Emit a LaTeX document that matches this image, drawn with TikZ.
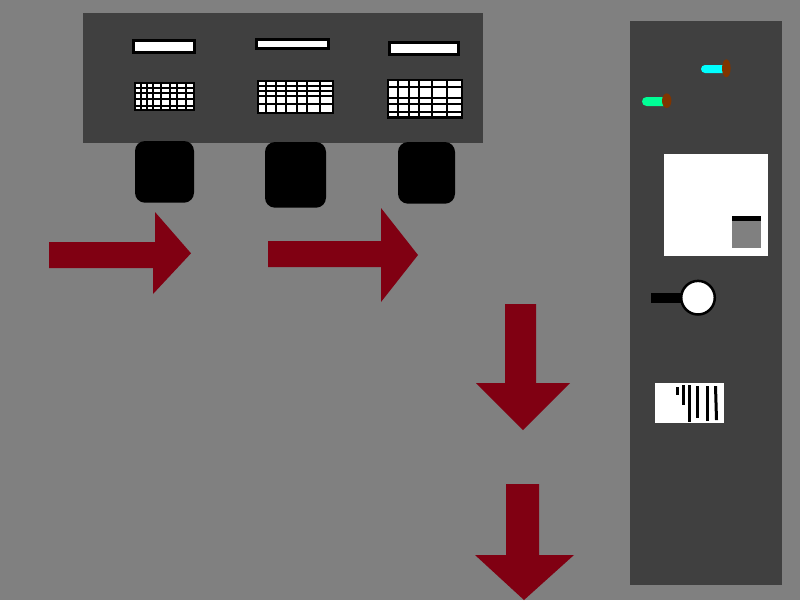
\documentclass[tikz,border=0pt]{standalone}
\usetikzlibrary{calc}
\definecolor{bggray}{RGB}{128,128,128}
\definecolor{panel}{RGB}{64,64,64}
\definecolor{darkred}{RGB}{128,0,18}
\definecolor{capcyan}{RGB}{0,255,255}
\definecolor{capgreen}{RGB}{0,255,150}
\definecolor{capbrown}{RGB}{128,52,0}
\tikzset{
  panelbox/.style={fill=panel,draw=none},
  barbox/.style={fill=white,draw=black,line width=2.7pt},
  gridbox/.style={fill=white,draw=black,line width=2.2pt},
  gridline/.style={draw=black,line width=1.7pt},
  blackbox/.style={fill=black,rounded corners=10pt},
  bigarrow/.style={fill=darkred,draw=none},
  blackbar/.style={fill=black,draw=none}
}
\begin{document}
\begin{tikzpicture}[x=1pt,y=-1pt]
\useasboundingbox (0,0) rectangle (800,600);
\fill[bggray] (0,0) rectangle (800,600);
% panels
\fill[panelbox] (83,13) rectangle (483,143);
\fill[panelbox] (630,21) rectangle (782,585);
% bars
\draw[barbox] (133.3,40.3) rectangle (194.7,52.7);
\draw[barbox] (256.3,39.3) rectangle (328.7,48.7);
\draw[barbox] (389.3,42.3) rectangle (458.7,54.7);
% grid 1
\draw[gridbox] (135,83) rectangle (194,110);
\foreach \c in {140.7,146.7,153.3,160.7,170,177.3,186} \draw[gridline] (\c,83) -- (\c,110);
\foreach \r in {88.3,93.3,99,106} \draw[gridline] (135,\r) -- (194,\r);
% grid 2
\draw[gridbox] (258,81) rectangle (333,113);
\foreach \c in {266,276,286,296.7,307.3,320} \draw[gridline] (\c,81) -- (\c,113);
\foreach \r in {86,91.3,96,104} \draw[gridline] (258,\r) -- (333,\r);
% grid 3
\draw[gridbox] (388,80) rectangle (462,117.5);
\foreach \c in {398,409,419.3,431.7,447.3} \draw[gridline] (\c,80) -- (\c,117.5);
\foreach \r in {87.3,98.3,104,111.7} \draw[gridline] (388,\r) -- (462,\r);
% black rounded boxes
\fill[blackbox] (135,141) rectangle (194,202.7);
\fill[blackbox] (265,142) rectangle (326,207.7);
\fill[blackbox] (398,142) rectangle (455,203.7);
% right arrows
\fill[bigarrow] (49,242) -- (155,242) -- (155,212) -- (191,253.3) -- (153,294) -- (153,268) -- (49,268) -- cycle;
\fill[bigarrow] (268,241) -- (381,241) -- (381,208) -- (418,255) -- (381,302) -- (381,267) -- (268,267) -- cycle;
% down arrows
\fill[bigarrow] (505,304) -- (536,304) -- (536,383) -- (570,383) -- (523,430) -- (476,383) -- (505,383) -- cycle;
\fill[bigarrow] (506,484) -- (539,484) -- (539,555) -- (574,555) -- (524,600) -- (475,555) -- (506,555) -- cycle;
% capsules
\fill[capcyan] (705,65) -- (723,65) -- (723,73) -- (705,73) arc[start angle=90,end angle=270,x radius=4pt,y radius=-4pt] -- cycle;
\fill[capbrown] (726.3,68.3) ellipse[x radius=4.3pt,y radius=9pt];
\fill[capgreen] (646.5,97) -- (664,97) -- (664,106) -- (646.5,106) arc[start angle=90,end angle=270,x radius=4.5pt,y radius=-4.5pt] -- cycle;
\fill[capbrown] (666.7,100.7) ellipse[x radius=4.7pt,y radius=7.3pt];
% white square with gray box
\fill[white] (664,154) rectangle (768,256);
\fill[bggray] (732,216) rectangle (760.7,248);
\fill[black] (732,216) rectangle (760.7,221);
% magnifier
\fill[black] (651,293) rectangle (685,303);
\draw[fill=white,draw=black,line width=2.5pt] (698,297.7) circle[radius=16.8pt];
% barcode card
\fill[white] (655,383) rectangle (724,422.7);
\fill[blackbar] (676,387) rectangle (679,395);
\fill[blackbar] (682,385) rectangle (685,405);
\fill[blackbar] (688,385) rectangle (691,421.7);
\fill[blackbar] (696,386) rectangle (699,418);
\fill[blackbar] (706,386) rectangle (709,420.7);
\fill[blackbar] (714,386) -- (717,386) -- (718,420) -- (715,420) -- cycle;
\end{tikzpicture}
\end{document}
